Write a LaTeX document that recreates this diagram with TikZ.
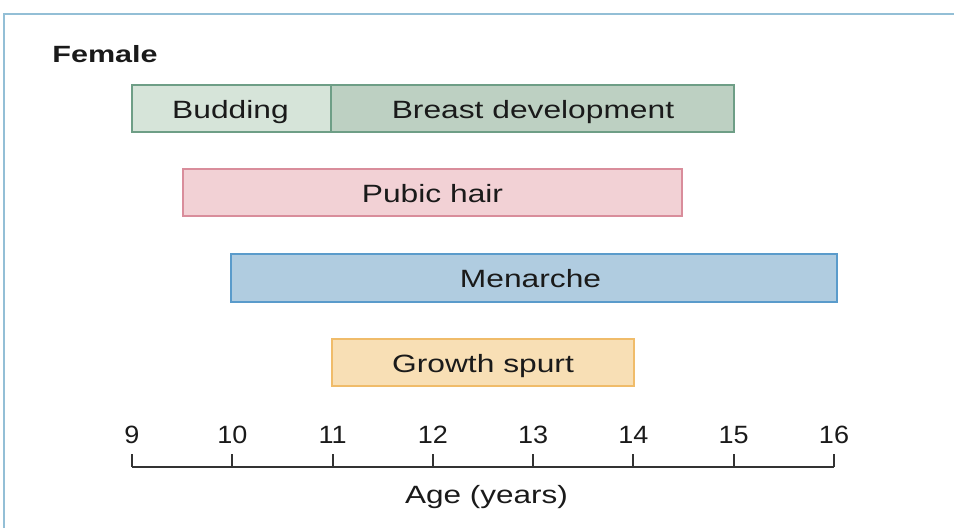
\documentclass[tikz,border=0pt]{standalone}
\usepackage{fontspec}
\usepackage{graphicx}
\setmainfont{Liberation Sans}
\definecolor{frameblue}{HTML}{93BFD6}
\definecolor{budfill}{HTML}{D6E4D9}
\definecolor{breastfill}{HTML}{BDD0C2}
\definecolor{greenline}{HTML}{6E9E86}
\definecolor{pubfill}{HTML}{F2D1D5}
\definecolor{publine}{HTML}{D98D9B}
\definecolor{menfill}{HTML}{B0CCE0}
\definecolor{menline}{HTML}{5A9BCB}
\definecolor{growfill}{HTML}{F8DFB5}
\definecolor{growline}{HTML}{F0BC6A}
\definecolor{txt}{HTML}{1A1A1A}
\definecolor{axisc}{HTML}{333333}
\newcommand{\wide}[1]{\scalebox{1.27}[1]{#1}}
\tikzset{
  bar/.style={draw, line width=2pt, inner sep=0pt, text=txt},
  lbl/.style={font=\fontsize{25}{30}\selectfont, text=txt, inner sep=0pt, anchor=base},
  ticklbl/.style={font=\fontsize{25}{30}\selectfont, text=txt, inner sep=0pt, anchor=base},
}
\begin{document}
\begin{tikzpicture}[x=1pt,y=-1pt]
\useasboundingbox (0,0) rectangle (954,528);
% frame
\draw[frameblue, line width=2pt] (4,528) -- (4,14) -- (954,14);
% title
\node[font=\bfseries\fontsize{23.5}{28}\selectfont, text=txt, inner sep=0pt, anchor=base] (title) at (105,62) {\scalebox{1.3}[1]{Female}};
% bars
\node[bar, draw=greenline, fill=budfill, minimum width=199pt, minimum height=47pt] (bud) at (231.5,108.5) {};
\node[bar, draw=greenline, fill=breastfill, minimum width=403pt, minimum height=47pt] (breast) at (532.5,108.5) {};
\node[lbl] (budt) at (230.5,118) {\wide{Budding}};
\node[lbl] (breastt) at (533,118) {\wide{Breast development}};
\node[bar, draw=publine, fill=pubfill, minimum width=499pt, minimum height=47pt] (pub) at (432.5,192.5) {};
\node[lbl] (pubt) at (432.5,202) {\wide{Pubic hair}};
\node[bar, draw=menline, fill=menfill, minimum width=606pt, minimum height=48pt] (men) at (534,278) {};
\node[lbl] (ment) at (530.5,287.5) {\wide{Menarche}};
\node[bar, draw=growline, fill=growfill, minimum width=302pt, minimum height=47pt] (grow) at (483,362.5) {};
\node[lbl] (growt) at (483,372) {\wide{Growth spurt}};
% axis
\coordinate (a9) at (132,467);
\coordinate (a16) at (834,467);
\draw[axisc, line width=2pt] (a9) -- (a16);
\foreach \v/\x in {9/132,10/232.3,11/332.6,12/432.9,13/533.1,14/633.4,15/733.7,16/834} {
  \coordinate (t\v) at (\x,467);
  \coordinate (u\v) at (\x,454);
  \draw[axisc, line width=2pt] (t\v) -- (u\v);
  \node[ticklbl] (l\v) at (\x,443) {\scalebox{1.08}[1]{\v}};
}
\node[lbl] (axlbl) at (486.5,503) {\scalebox{1.26}[1]{Age (years)}};
\end{tikzpicture}
\end{document}
